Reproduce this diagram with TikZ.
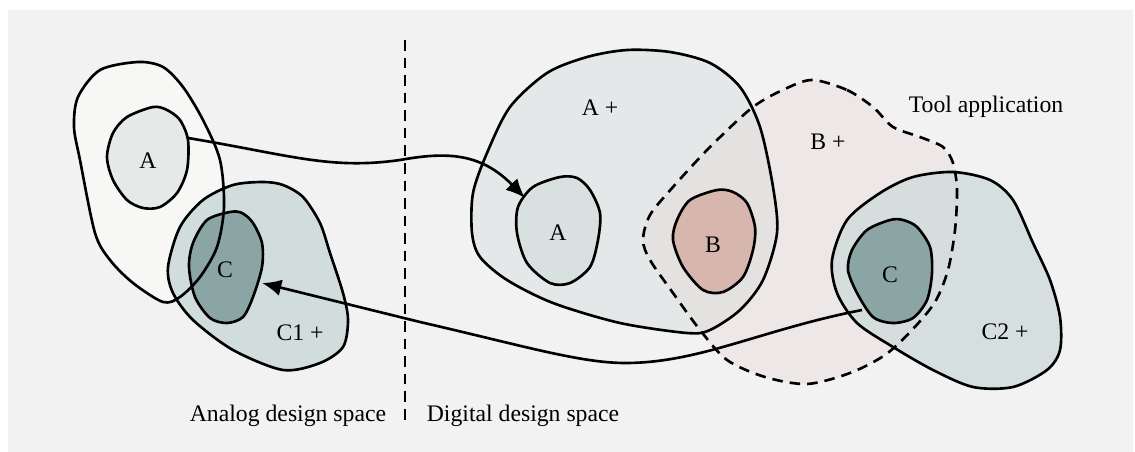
\documentclass[tikz,border=0pt]{standalone}
\usepackage{fontspec}
\setmainfont{Liberation Serif}
\usetikzlibrary{arrows.meta}

\definecolor{panel}{HTML}{F2F2F2}
\definecolor{paleout}{HTML}{F7F7F6}
\definecolor{greyA}{HTML}{E5E9E8}
\definecolor{greyAin}{HTML}{D8E0E0}
\definecolor{tealpale}{HTML}{D1DCDC}
\definecolor{tealdark}{HTML}{8AA5A4}
\definecolor{plusA}{HTML}{E4E8E9}
\definecolor{toolfill}{HTML}{E4D8D3}
\definecolor{rosy}{HTML}{D6B6AD}

\tikzstyle{lbl}=[inner sep=1pt,font=\fontsize{13.5}{16}\selectfont]
\tikzstyle{rim}=[draw=black,line width=1.5pt]
\tikzstyle{rimdash}=[draw=black,line width=1.5pt,dash pattern=on 6pt off 4pt]
\tikzstyle{link}=[line width=1.5pt,-{Latex[length=11pt,width=9.5pt]}]

% outlines of the sets (pixel grid, y down)
\newcommand{\blobOut}{plot[smooth cycle] coordinates {(138,62) (100,70) (78,97) (74,127) (80,160) (95,233) (110,260) (133,283) (163,302) (180,297) (200,277) (217,247) (224,207) (220,160) (203,120) (183,87) (163,67)}}
\newcommand{\blobAl}{plot[smooth cycle] coordinates {(153,107) (127,117) (113,133) (107,157) (113,180) (127,200) (143,208) (160,207) (177,193) (187,170) (188,140) (180,120) (167,110)}}
\newcommand{\blobCone}{plot[smooth cycle] coordinates {(263,182) (233,185) (203,200) (180,227) (168,267) (173,293) (193,320) (233,350) (283,370) (320,363) (343,347) (348,320) (343,293) (330,253) (320,223) (303,197) (283,185)}}
\newcommand{\blobCl}{plot[smooth cycle] coordinates {(230,212) (207,220) (193,243) (189,267) (195,297) (210,318) (227,323) (243,317) (253,297) (262,267) (262,243) (253,223) (242,213)}}
\newcommand{\blobAplus}{plot[smooth cycle] coordinates {(627,50) (587,57) (547,73) (510,107) (487,153) (473,193) (472,233) (480,257) (507,280) (553,303) (620,323) (687,333) (710,330) (740,310) (763,280) (777,233) (773,187) (760,127) (740,87) (710,63) (670,52)}}
\newcommand{\blobAr}{plot[smooth cycle] coordinates {(560,177) (533,187) (518,207) (517,233) (527,263) (550,283) (570,283) (590,267) (598,240) (600,213) (590,190) (577,178)}}
\newcommand{\blobTool}{plot[smooth cycle] coordinates {(813,80) (847,90) (873,107) (893,127) (920,137) (943,147) (953,163) (957,190) (955,230) (948,270) (935,302) (912,330) (885,355) (850,373) (807,384) (765,377) (727,360) (700,330) (673,293) (650,260) (643,240) (650,215) (673,187) (710,147) (753,107) (787,88)}}
\newcommand{\blobB}{plot[smooth cycle] coordinates {(717,190) (690,200) (677,220) (673,240) (683,267) (703,290) (723,292) (743,277) (753,250) (755,227) (747,203) (733,192)}}
\newcommand{\blobCtwo}{plot[smooth cycle] coordinates {(953,172) (913,177) (880,193) (847,220) (832,260) (837,293) (857,323) (893,347) (933,370) (973,387) (1013,387) (1047,370) (1060,350) (1060,317) (1050,280) (1033,243) (1013,200) (990,180)}}
\newcommand{\blobCr}{plot[smooth cycle] coordinates {(890,220) (867,230) (852,250) (848,270) (857,293) (873,317) (893,323) (913,318) (927,300) (932,273) (930,247) (917,227) (903,220)}}

\begin{document}
\begin{tikzpicture}[x=0.02cm,y=-0.02cm]
\useasboundingbox (0,0) rectangle (1135,452);
\fill[panel] (8,10) rectangle (1133,452);

% fills
\fill[paleout] \blobOut;
\fill[greyA] \blobAl;
\fill[tealpale] \blobCone;
\fill[tealdark] \blobCl;
\fill[plusA] \blobAplus;
\fill[greyAin] \blobAr;
\fill[toolfill,fill opacity=0.35] \blobTool;
\fill[rosy] \blobB;
\fill[tealpale,fill opacity=0.85] \blobCtwo;
\fill[tealdark] \blobCr;

% outlines
\draw[rim] \blobOut;
\draw[rim] \blobAl;
\draw[rim] \blobCone;
\draw[rim] \blobCl;
\draw[rim] \blobAplus;
\draw[rim] \blobAr;
\draw[rimdash] \blobTool;
\draw[rim] \blobB;
\draw[rim] \blobCtwo;
\draw[rim] \blobCr;

% divider
\coordinate (divtop) at (405,40);
\coordinate (divbot) at (405,426);
\draw[line width=1.5pt,dash pattern=on 6pt off 4pt] (divtop) -- (divbot);

\node[lbl] (aleft) at (148,161) {A};
\node[lbl] (cleft) at (225,270) {C};
\node[lbl] (conep) at (300,333) {C1 +};
\node[lbl] (aplus) at (600,108) {A +};
\node[lbl] (aright) at (558,233) {A};
\node[lbl] (bmid) at (713,245) {B};
\node[lbl] (bplus) at (828,142) {B +};
\node[lbl] (tool) at (986,107) {Tool application};
\node[lbl] (cright) at (890,275) {C};
\node[lbl] (ctwop) at (1005,332) {C2 +};
\node[lbl] (analog) at (288,416) {Analog design space};
\node[lbl] (digital) at (523,416) {Digital design space};

% transfers between the two spaces
\coordinate (aout) at (188,138);
\coordinate (ain) at (525,198);
\coordinate (cout) at (862,310);
\coordinate (cin) at (262,283);
\draw[link] (aout) .. controls (290,155) and (330,170) .. (400,160)
  .. controls (445,152) and (480,152) .. (ain);
\draw[link] (cout) .. controls (760,330) and (700,363) .. (625,363)
  .. controls (580,363) and (520,345) .. (420,322) -- (cin);
\end{tikzpicture}
\end{document}
